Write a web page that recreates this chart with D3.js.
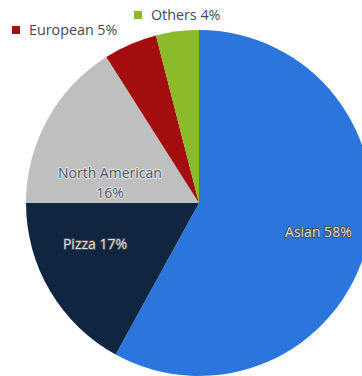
<!DOCTYPE html>
<html>
<head>
<meta charset="utf-8">
<script src="https://cdn.jsdelivr.net/npm/d3@7"></script>
<style>
  html, body { margin: 0; padding: 0; background: #fff; }
  svg { display: block; font-family: "Open Sans", sans-serif; }
</style>
</head>
<body>
<svg id="chart" width="362" height="376"></svg>
<script>
// Cuisine share, clockwise from 12 o'clock
const categories = ["Asian", "Pizza", "North American", "European", "Others"];
const shares = [58, 17, 16, 5, 4];
const colors = ["#2a76dd", "#10253f", "#bfbfbf", "#a40d0d", "#8bbb2b"];
// Slices whose label sits in the top legend rather than on the slice
const legendItems = ["European", "Others"];

const svg = d3.select("#chart");
const cx = 199, cy = 203, radius = 173;

const data = categories.map((c, i) => ({ name: c, value: shares[i], color: colors[i] }));

const pie = d3.pie().value(d => d.value).sort(null);
const arc = d3.arc().innerRadius(0).outerRadius(radius);
const arcs = pie(data);

const g = svg.append("g").attr("transform", `translate(${cx},${cy})`);

g.selectAll("path.slice")
  .data(arcs)
  .join("path")
  .attr("class", "slice")
  .attr("d", arc)
  .attr("fill", d => d.data.color);

// In-slice labels: position along the slice (t) and out from the centre (r)
const labelCfg = {
  "Asian": { t: 0.496, r: 0.71, split: false, light: true },
  "Pizza": { t: 0.65, r: 0.646, split: false, light: true },
  "North American": { t: 0.222, r: 0.528, split: true, light: false }
};

arcs.filter(d => labelCfg[d.data.name]).forEach(d => {
  const cfg = labelCfg[d.data.name];
  const a = d.startAngle + (d.endAngle - d.startAngle) * cfg.t;
  const x = Math.sin(a) * radius * cfg.r;
  const y = -Math.cos(a) * radius * cfg.r;
  const lines = cfg.split ? [d.data.name, `${d.data.value}%`] : [`${d.data.name} ${d.data.value}%`];
  const lh = 20;
  const t = g.append("text")
    .attr("text-anchor", "middle")
    .attr("font-size", 14)
    .attr("paint-order", "stroke")
    .attr("stroke-linejoin", "round")
    .attr("fill", cfg.light ? "#dcdfe4" : "#465468")
    .attr("stroke", cfg.light ? "#4a4a4a" : "rgba(255,255,255,0.6)")
    .attr("stroke-width", 1.8);
  lines.forEach((ln, i) => {
    t.append("tspan")
      .attr("x", x)
      .attr("y", y + (i - (lines.length - 1) / 2) * lh)
      .attr("dy", "0.35em")
      .text(ln);
  });
});

// Top legend entries for the two thin slices
const legendPos = { "European": [12, 26], "Others": [134, 11] };
legendItems.forEach(name => {
  const d = data.find(e => e.name === name);
  const [x, y] = legendPos[name];
  svg.append("rect")
    .attr("x", x).attr("y", y)
    .attr("width", 8).attr("height", 8)
    .attr("fill", d.color);
  svg.append("text")
    .attr("x", x + 17).attr("y", y + 4)
    .attr("dy", "0.35em")
    .attr("font-size", 14.3)
    .attr("fill", "#3d4b5c")
    .text(`${d.name} ${d.value}%`);
});
</script>
</body>
</html>
